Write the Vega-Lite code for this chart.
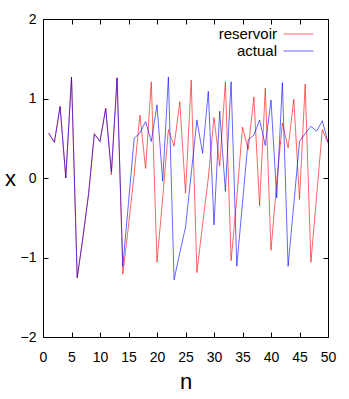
{
  "$schema": "https://vega.github.io/schema/vega-lite/v6.json",
  "width": 285,
  "height": 318,
  "autosize": "none",
  "padding": {"left": 43, "top": 19, "right": 21, "bottom": 62},
  "background": "white",
  "config": {
    "view": {"stroke": "black", "strokeWidth": 1},
    "font": "Liberation Sans, Arial, sans-serif"
  },
  "data": {
    "values": [
      {"n": 1, "series": "reservoir", "value": 0.565},
      {"n": 2, "series": "reservoir", "value": 0.45},
      {"n": 3, "series": "reservoir", "value": 0.90},
      {"n": 4, "series": "reservoir", "value": 0.0},
      {"n": 5, "series": "reservoir", "value": 1.27},
      {"n": 6, "series": "reservoir", "value": -1.255},
      {"n": 7, "series": "reservoir", "value": -0.75},
      {"n": 8, "series": "reservoir", "value": -0.2},
      {"n": 9, "series": "reservoir", "value": 0.56},
      {"n": 10, "series": "reservoir", "value": 0.46},
      {"n": 11, "series": "reservoir", "value": 0.88},
      {"n": 12, "series": "reservoir", "value": 0.04},
      {"n": 13, "series": "reservoir", "value": 1.26},
      {"n": 14, "series": "reservoir", "value": -1.21},
      {"n": 15, "series": "reservoir", "value": -0.6},
      {"n": 16, "series": "reservoir", "value": 0.05},
      {"n": 17, "series": "reservoir", "value": 0.79},
      {"n": 18, "series": "reservoir", "value": 0.12},
      {"n": 19, "series": "reservoir", "value": 1.21},
      {"n": 20, "series": "reservoir", "value": -1.06},
      {"n": 21, "series": "reservoir", "value": -0.25},
      {"n": 22, "series": "reservoir", "value": 0.61},
      {"n": 23, "series": "reservoir", "value": 0.40},
      {"n": 24, "series": "reservoir", "value": 0.96},
      {"n": 25, "series": "reservoir", "value": -0.19},
      {"n": 26, "series": "reservoir", "value": 1.23},
      {"n": 27, "series": "reservoir", "value": -1.19},
      {"n": 28, "series": "reservoir", "value": -0.58},
      {"n": 29, "series": "reservoir", "value": 0.0},
      {"n": 30, "series": "reservoir", "value": 0.76},
      {"n": 31, "series": "reservoir", "value": 0.15},
      {"n": 32, "series": "reservoir", "value": 1.21},
      {"n": 33, "series": "reservoir", "value": -1.04},
      {"n": 34, "series": "reservoir", "value": -0.25},
      {"n": 35, "series": "reservoir", "value": 0.64},
      {"n": 36, "series": "reservoir", "value": 0.36},
      {"n": 37, "series": "reservoir", "value": 1.02},
      {"n": 38, "series": "reservoir", "value": -0.35},
      {"n": 39, "series": "reservoir", "value": 1.13},
      {"n": 40, "series": "reservoir", "value": -0.91},
      {"n": 41, "series": "reservoir", "value": -0.05},
      {"n": 42, "series": "reservoir", "value": 0.69},
      {"n": 43, "series": "reservoir", "value": 0.38},
      {"n": 44, "series": "reservoir", "value": 0.99},
      {"n": 45, "series": "reservoir", "value": -0.27},
      {"n": 46, "series": "reservoir", "value": 1.18},
      {"n": 47, "series": "reservoir", "value": -1.06},
      {"n": 48, "series": "reservoir", "value": -0.23},
      {"n": 49, "series": "reservoir", "value": 0.61},
      {"n": 50, "series": "reservoir", "value": 0.44},
      {"n": 1, "series": "actual", "value": 0.565},
      {"n": 2, "series": "actual", "value": 0.45},
      {"n": 3, "series": "actual", "value": 0.90},
      {"n": 4, "series": "actual", "value": 0.0},
      {"n": 5, "series": "actual", "value": 1.27},
      {"n": 6, "series": "actual", "value": -1.255},
      {"n": 7, "series": "actual", "value": -0.75},
      {"n": 8, "series": "actual", "value": -0.2},
      {"n": 9, "series": "actual", "value": 0.55},
      {"n": 10, "series": "actual", "value": 0.46},
      {"n": 11, "series": "actual", "value": 0.87},
      {"n": 12, "series": "actual", "value": 0.08},
      {"n": 13, "series": "actual", "value": 1.26},
      {"n": 14, "series": "actual", "value": -1.11},
      {"n": 15, "series": "actual", "value": -0.31},
      {"n": 16, "series": "actual", "value": 0.50},
      {"n": 17, "series": "actual", "value": 0.565},
      {"n": 18, "series": "actual", "value": 0.71},
      {"n": 19, "series": "actual", "value": 0.46},
      {"n": 20, "series": "actual", "value": 0.92},
      {"n": 21, "series": "actual", "value": -0.04},
      {"n": 22, "series": "actual", "value": 1.27},
      {"n": 23, "series": "actual", "value": -1.28},
      {"n": 24, "series": "actual", "value": -0.94},
      {"n": 25, "series": "actual", "value": -0.62},
      {"n": 26, "series": "actual", "value": 0.05},
      {"n": 27, "series": "actual", "value": 0.73},
      {"n": 28, "series": "actual", "value": 0.31},
      {"n": 29, "series": "actual", "value": 1.09},
      {"n": 30, "series": "actual", "value": -0.59},
      {"n": 31, "series": "actual", "value": 0.84},
      {"n": 32, "series": "actual", "value": -0.17},
      {"n": 33, "series": "actual", "value": 1.21},
      {"n": 34, "series": "actual", "value": -1.11},
      {"n": 35, "series": "actual", "value": -0.31},
      {"n": 36, "series": "actual", "value": 0.48},
      {"n": 37, "series": "actual", "value": 0.54},
      {"n": 38, "series": "actual", "value": 0.73},
      {"n": 39, "series": "actual", "value": 0.41},
      {"n": 40, "series": "actual", "value": 0.98},
      {"n": 41, "series": "actual", "value": -0.25},
      {"n": 42, "series": "actual", "value": 1.20},
      {"n": 43, "series": "actual", "value": -1.11},
      {"n": 44, "series": "actual", "value": -0.33},
      {"n": 45, "series": "actual", "value": 0.46},
      {"n": 46, "series": "actual", "value": 0.56},
      {"n": 47, "series": "actual", "value": 0.65},
      {"n": 48, "series": "actual", "value": 0.59},
      {"n": 49, "series": "actual", "value": 0.72},
      {"n": 50, "series": "actual", "value": 0.45}
    ]
  },
  "layer": [
    {
      "mark": {"type": "line", "strokeWidth": 1, "opacity": 0.6},
      "encoding": {
        "x": {
          "field": "n", "type": "quantitative",
          "scale": {"domain": [0, 50], "nice": false, "zero": false},
          "axis": {
            "orient": "bottom", "values": [0, 5, 10, 15, 20, 25, 30, 35, 40, 45, 50],
            "domain": false, "grid": false, "tickSize": -5, "tickColor": "black",
            "labelPadding": 18, "labelFontSize": 14, "labelColor": "black",
            "labelFlush": false, "labelOverlap": false,
            "title": "n", "titleFontSize": 22, "titleFontWeight": "normal",
            "titleColor": "black", "titlePadding": 7
          }
        },
        "y": {
          "field": "value", "type": "quantitative",
          "scale": {"domain": [-2, 2], "nice": false, "zero": false},
          "axis": {
            "orient": "left", "values": [-2, -1, 0, 1, 2],
            "domain": false, "grid": false, "tickSize": -5, "tickColor": "black",
            "labelPadding": 12, "labelFontSize": 14, "labelColor": "black",
            "labelOverlap": false,
            "title": "x", "titleFontSize": 22, "titleFontWeight": "normal",
            "titleColor": "black", "titleAngle": 0, "titleAlign": "center",
            "titleBaseline": "middle", "titleX": -33, "titleY": 159
          }
        },
        "color": {
          "field": "series", "type": "nominal",
          "scale": {"domain": ["reservoir", "actual"], "range": ["#ff0000", "#0000ff"]},
          "legend": {
            "orient": "none", "legendX": 247.5, "legendY": 7, "title": null,
            "symbolType": "M-2,0H2", "symbolSize": 225, "symbolStrokeWidth": 1,
            "labelAlign": "right", "labelOffset": -29.5, "labelFontSize": 15,
            "labelColor": "black", "rowPadding": 1, "padding": 0
          }
        },
        "order": {"field": "n", "type": "quantitative"}
      }
    },
    {
      "mark": {"type": "line", "opacity": 0},
      "encoding": {
        "x": {
          "field": "n", "type": "quantitative",
          "axis": {
            "orient": "top", "values": [0, 5, 10, 15, 20, 25, 30, 35, 40, 45, 50],
            "domain": false, "grid": false, "tickSize": -5, "tickColor": "black",
            "labels": false, "title": null
          }
        },
        "y": {
          "field": "value", "type": "quantitative",
          "axis": {
            "orient": "right", "values": [-2, -1, 0, 1, 2],
            "domain": false, "grid": false, "tickSize": -5, "tickColor": "black",
            "labels": false, "title": null
          }
        },
        "detail": {"field": "series"}
      }
    }
  ],
  "resolve": {"axis": {"x": "independent", "y": "independent"}}
}
